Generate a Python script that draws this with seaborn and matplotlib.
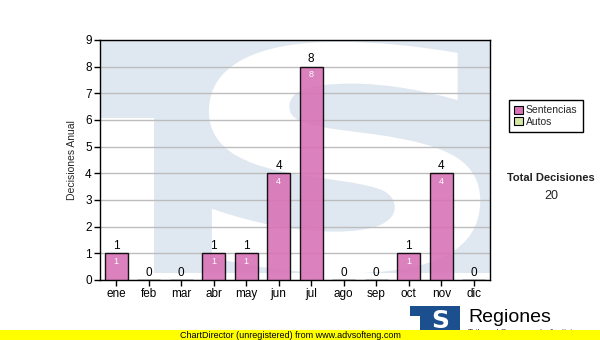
import matplotlib
matplotlib.use("Agg")
import matplotlib.pyplot as plt
import seaborn as sns
import pandas as pd
from matplotlib.patches import Rectangle, PathPatch
from matplotlib.textpath import TextPath
from matplotlib.font_manager import FontProperties
from matplotlib.transforms import Affine2D

months = ["ene", "feb", "mar", "abr", "may", "jun", "jul", "ago", "sep", "oct", "nov", "dic"]
sentencias = [1, 0, 0, 1, 1, 4, 8, 0, 0, 1, 4, 0]
autos = [0, 0, 0, 0, 0, 0, 0, 0, 0, 0, 0, 0]
series_names = ["Sentencias", "Autos"]
y_ticks = [0, 1, 2, 3, 4, 5, 6, 7, 8, 9]
total_label = "Total Decisiones"
total_value = 20

sns.set_theme(style="white")
plt.rcParams["font.family"] = ["Liberation Sans", "DejaVu Sans"]

PINK = "#d873b6"
GREEN = "#d4e8a4"
WATER = "#dfe8f1"

fig = plt.figure(figsize=(6.0, 3.4), dpi=100)
fig.patch.set_facecolor("white")
ax = fig.add_axes([100 / 600, 60 / 340, 390 / 600, 240 / 340])
ax.set_facecolor(WATER)

df = pd.DataFrame({"mes": months, "Sentencias": sentencias, "Autos": autos})
df["total"] = df["Sentencias"] + df["Autos"]

# watermark: white cut-outs on light blue background
ax.add_patch(Rectangle((-0.5, 0), 1.66, 6.07, facecolor="white", edgecolor="none", zorder=0.1))
ax.add_patch(Rectangle((-0.5, 0), 12, 0.25, facecolor="white", edgecolor="none", zorder=0.1))
fp = FontProperties(family="DejaVu Sans", weight="bold")
tp = TextPath((0, 0), "S", size=1, prop=fp)
bb = tp.get_extents()
x0, x1, y0, y1 = 2.85, 11.2, 0.25, 8.93
tr = Affine2D().translate(-bb.x0, -bb.y0).scale((x1 - x0) / bb.width, (y1 - y0) / bb.height).translate(x0, y0)
ax.add_patch(PathPatch(tr.transform_path(tp), facecolor="white", edgecolor="none", zorder=0.2))

sns.barplot(data=df, x="mes", y="Sentencias", color=PINK, saturation=1, width=0.7, alpha=0.9,
            edgecolor="black", linewidth=1.0, ax=ax, zorder=3)
for p in ax.patches:
    if isinstance(p, Rectangle) and p.get_zorder() == 3:
        p.set_edgecolor("black")

ax.set_ylim(0, 9)
ax.set_xlim(-0.5, 11.5)
ax.set_yticks(y_ticks)
ax.yaxis.grid(True, color="#bdbdbd", linewidth=1.0, zorder=1)
ax.set_axisbelow(True)
for s in ax.spines.values():
    s.set_color("black")
    s.set_linewidth(1.0)
ax.tick_params(axis="both", which="both", direction="out", length=4, width=1, color="black",
               labelsize=8.5, labelcolor="black", pad=2, left=True, bottom=True)
ax.set_xlabel("")
ax.set_ylabel("Decisiones Anual", fontsize=7.5, labelpad=6)

for i, (s, t) in enumerate(zip(df["Sentencias"], df["total"])):
    ax.text(i, t + 0.05, str(t), ha="center", va="bottom", fontsize=8.5, color="black", zorder=5)
    if s > 0:
        ax.text(i, s - 0.12, str(s), ha="center", va="top", fontsize=6.5, color="white", zorder=5)

# legend
handles = [Rectangle((0, 0), 1, 1, facecolor=PINK, edgecolor="black", linewidth=0.8),
           Rectangle((0, 0), 1, 1, facecolor=GREEN, edgecolor="black", linewidth=0.8)]
leg = fig.legend(handles, series_names, loc="upper left", bbox_to_anchor=(509 / 600, 1 - 100 / 340),
                 fontsize=7.5, frameon=True, fancybox=False, edgecolor="black", framealpha=1,
                 handlelength=0.8, handleheight=0.8, handletextpad=0.3, labelspacing=0.15,
                 borderpad=0.5, borderaxespad=0)
leg.get_frame().set_linewidth(1.0)

fig.text(551 / 600, 1 - 178 / 340, total_label, ha="center", va="center", fontsize=8,
         fontweight="bold", color="#222222")
fig.text(551 / 600, 1 - 196 / 340, str(total_value), ha="center", va="center", fontsize=9,
         color="#222222")

# logo bottom right
fig.patches.append(Rectangle((410 / 600, 1 - 332 / 340), 50 / 600, 26 / 340, transform=fig.transFigure,
                             facecolor="#1b4f8e", edgecolor="none", zorder=1))
fig.patches.append(Rectangle((410 / 600, 1 - 332 / 340), 10 / 600, 16 / 340, transform=fig.transFigure,
                             facecolor="white", edgecolor="none", zorder=1.5))
fig.text(440 / 600, 1 - 321 / 340, "S", ha="center", va="center", fontsize=18, fontweight="bold",
         color="white", family="DejaVu Sans", zorder=2)
fig.text(468 / 600, 1 - 317 / 340, "Regiones", ha="left", va="center", fontsize=14, color="black", zorder=2)
fig.text(468 / 600, 1 - 333 / 340, "Tribunal Supremo de Justicia", ha="left", va="center", fontsize=6,
         color="#333333", zorder=2)

# yellow strip
fig.patches.append(Rectangle((0, 0), 1, 10 / 340, transform=fig.transFigure,
                             facecolor="#ffff00", edgecolor="none", zorder=5))
fig.text(290 / 600, 5 / 340, "ChartDirector (unregistered) from www.advsofteng.com", ha="center",
         va="center", fontsize=6.5, color="black", zorder=6)

fig.savefig("out.png", dpi=100)
